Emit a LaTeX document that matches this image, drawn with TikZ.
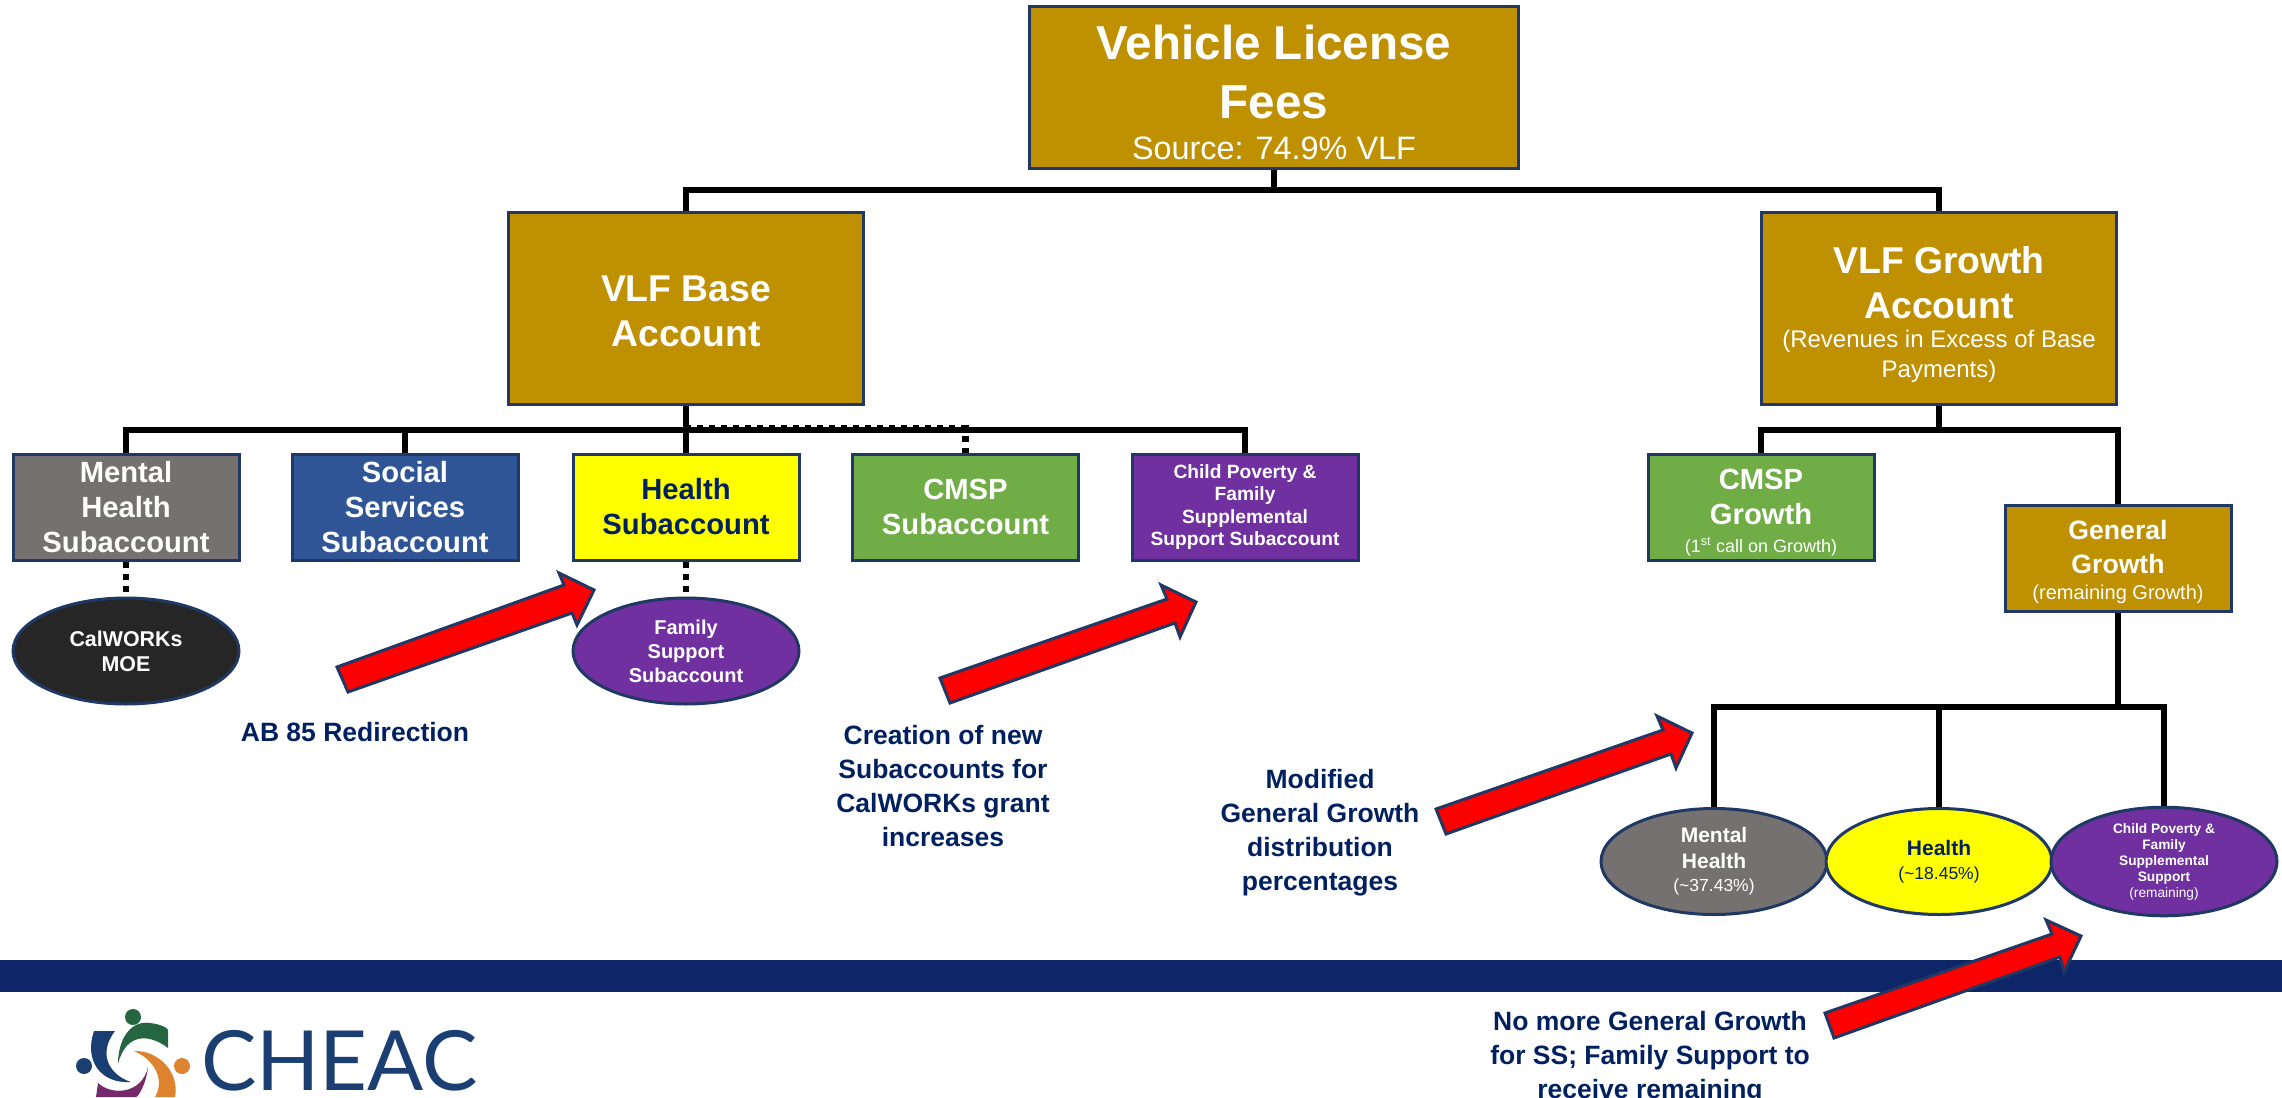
\documentclass[tikz,border=0pt]{standalone}
\usepackage{fontspec}
\setmainfont{Liberation Sans}
\newfontfamily\logofont{Lato}
\usetikzlibrary{shapes.geometric}

\definecolor{goldbox}{HTML}{BF9000}
\definecolor{graybox}{HTML}{767171}
\definecolor{bluebox}{HTML}{2F5597}
\definecolor{greenbox}{HTML}{70AD47}
\definecolor{purplebox}{HTML}{7030A0}
\definecolor{yellowbox}{HTML}{FFFF00}
\definecolor{redarrowfill}{HTML}{FF0000}
\definecolor{darkoval}{HTML}{262626}
\definecolor{navytext}{HTML}{002060}
\definecolor{edgeblue}{HTML}{1F3864}
\definecolor{bandblue}{HTML}{0E2668}
\definecolor{logoblue}{HTML}{1B3F73}
\definecolor{logogreen}{HTML}{256640}
\definecolor{logoorange}{HTML}{DE8430}
\definecolor{logopurple}{HTML}{772A6B}

\newcommand{\fsz}[2]{\fontsize{#1}{#2}\selectfont}
\newcommand{\headroom}[1]{\rule{0pt}{#1}}

\tikzset{
  box/.style={draw=edgeblue,line width=3pt,rectangle,inner sep=0pt,align=center,text=white},
  oval/.style={box,ellipse,minimum width=226pt,minimum height=106pt},
  small/.style={box,minimum width=226pt,minimum height=106pt},
  tree/.style={line width=6.5pt,black},
  treedash/.style={tree,dash pattern=on 6pt off 6pt},
  redarrow/.style={draw=edgeblue,line width=3pt,fill=redarrowfill,line join=miter},
  note/.style={text=navytext,font=\bfseries\fsz{26.5}{34},align=center,inner sep=0pt}
}

\begin{document}
\begin{tikzpicture}[x=1pt,y=-1pt]
 \useasboundingbox (0,0) rectangle (2282,1097);

 \fill [bandblue] (0,960) rectangle (2282,992);

 \coordinate (topbar) at (1274,190);
 \coordinate (basebar) at (686,430);
 \coordinate (growthbar) at (1939,430);
 \coordinate (splitbar) at (1939,707);
 \coordinate (generaljoin) at (2118,707);

 \node (top) at (1274,87.5) [box,fill=goldbox,minimum width=489pt,minimum height=161pt,font=\bfseries\fsz{47.6}{59}]
   {\headroom{44pt}Vehicle License\\Fees\\[-18pt]\fsz{32.4}{36}\mdseries Source: 74.9\% VLF};
 \node (base) at (686,308) [box,fill=goldbox,minimum width=355pt,minimum height=192pt,font=\bfseries\fsz{37.3}{45}]
   {\headroom{33pt}VLF Base\\Account};
 \node (growth) at (1939,308) [box,fill=goldbox,minimum width=355pt,minimum height=192pt,font=\bfseries\fsz{37.3}{45}]
   {\headroom{39pt}VLF Growth\\Account\\[-16pt]\fsz{24}{31}\mdseries (Revenues in Excess of Base\\[-15pt]\fsz{24}{31}\mdseries Payments)};

 \node (mental) at (126,507) [small,fill=graybox,font=\bfseries\fsz{29.2}{35}] {Mental\\Health\\Subaccount};
 \node (social) at (405,507) [small,fill=bluebox,font=\bfseries\fsz{29.2}{35}] {Social\\Services\\Subaccount};
 \node (health) at (686,507) [small,fill=yellowbox,text=navytext,font=\bfseries\fsz{29.2}{35}] {Health\\Subaccount};
 \node (cmsp) at (965.5,507) [small,fill=greenbox,font=\bfseries\fsz{29.2}{35}] {CMSP\\Subaccount};
 \node (child) at (1245,507) [small,fill=purplebox,font=\bfseries\fsz{19.2}{22.5}] {Child Poverty \&\\Family\\Supplemental\\Support Subaccount};
 \node (cmspgrowth) at (1761,507) [small,fill=greenbox,font=\bfseries\fsz{29.2}{35}]
   {\headroom{31pt}CMSP\\Growth\\[-7pt]\fsz{18}{22}\mdseries (1\textsuperscript{st} call on Growth)};
 \node (general) at (2118,558) [small,fill=goldbox,font=\bfseries\fsz{26.6}{34}]
   {\headroom{27pt}General\\Growth\\[-8pt]\fsz{20}{22}\mdseries (remaining Growth)};

 \node (calworks) at (126,651) [oval,fill=darkoval,font=\bfseries\fsz{21.4}{25}] {CalWORKs\\MOE};
 \node (family) at (686,651) [oval,fill=purplebox,font=\bfseries\fsz{20}{24}] {Family\\Support\\Subaccount};
 \node (mentalpct) at (1714,861.5) [oval,fill=graybox,font=\bfseries\fsz{21}{25.5}]
   {Mental\\Health\\[-2pt]\fsz{17.5}{21}\mdseries (\textasciitilde 37.43\%)};
 \node (healthpct) at (1939,861.5) [oval,fill=yellowbox,text=navytext,font=\bfseries\fsz{21}{25.5}]
   {Health\\[-2pt]\fsz{17.5}{21}\mdseries (\textasciitilde 18.45\%)};
 \node (childpct) at (2164,861.5) [oval,fill=purplebox,font=\bfseries\fsz{13.7}{16}]
   {Child Poverty \&\\Family\\Supplemental\\Support\\\mdseries (remaining)};

 \draw [tree] (top.south) -- (topbar);
 \draw [tree] (base.north) |- (topbar) -| (growth.north);
 \draw [tree] (base.south) -- (health.north);
 \draw [tree] (mental.north) |- (basebar) -| (child.north);
 \draw [tree] (social.north) |- (basebar);
 \draw [treedash] (basebar) -- ++(0,-1.5) -| (cmsp.north);
 \draw [treedash] (mental.south) -- (calworks.north);
 \draw [treedash] (health.south) -- (family.north);

 \draw [tree] (growth.south) -- (growthbar);
 \draw [tree] (cmspgrowth.north) |- (growthbar) -| (general.north);
 \draw [tree] (general.south) -- (generaljoin);
 \draw [tree] (mentalpct.north) |- (splitbar) -| (childpct.north);
 \draw [tree] (healthpct.north) -- (splitbar);

 % red arrows
 \draw [redarrow] (337,667) -- (564,585) -- (559,573) -- (594,590) -- (577,625) -- (572,613) -- (348,692) -- cycle;
 \draw [redarrow] (940,678) -- (1167,599) -- (1161,585) -- (1196,602) -- (1180,637) -- (1175,623) -- (950,703) -- cycle;
 \draw [redarrow] (1436,809) -- (1663,730) -- (1657,716) -- (1692,733) -- (1676,768) -- (1671,754) -- (1446,834) -- cycle;
 \draw [redarrow] (1825,1013) -- (2052,934) -- (2046,920) -- (2081,936) -- (2064,972) -- (2060,957) -- (1834,1038) -- cycle;

 \node (redirect) at (355,732) [note] {AB 85 Redirection};
 \node (creation) at (943,786) [note] {Creation of new\\Subaccounts for\\CalWORKs grant\\increases};
 \node (modified) at (1320,833) [note] {Modified\\General Growth\\distribution\\percentages};
 \node (nomore) at (1650,1058) [note] {No more General Growth\\for SS; Family Support to\\receive remaining};

 % logo
 \fill [logogreen] (133,1017) circle (8);
 \fill [logoblue] (84,1066) circle (8);
 \fill [logoorange] (182,1066) circle (8);
 \fill [logoblue] (115,1031) -- (94,1031) .. controls (84,1060) and (100,1084) .. (131,1082) .. controls (112,1076) and (96,1056) .. cycle;
 \fill [logogreen] (118,1064) .. controls (118,1040) and (130,1020) .. (150,1023) .. controls (160,1024) and (168,1028) .. (168,1030) -- (168,1048) .. controls (150,1034) and (126,1032) .. cycle;
 \fill [logoorange] (134,1051) .. controls (158,1050) and (180,1072) .. (175,1097) -- (155,1097) .. controls (165,1080) and (155,1060) .. cycle;
 \fill [logopurple] (148,1067) .. controls (146,1085) and (138,1097) .. (136,1097) -- (96,1097) -- (98,1083) .. controls (112,1096) and (142,1094) .. cycle;
 \node (cheac) at (339.5,1060.5) [text=logoblue,inner sep=0pt,font=\logofont\fsz{83}{83}] {CHEAC};
\end{tikzpicture}
\end{document}
